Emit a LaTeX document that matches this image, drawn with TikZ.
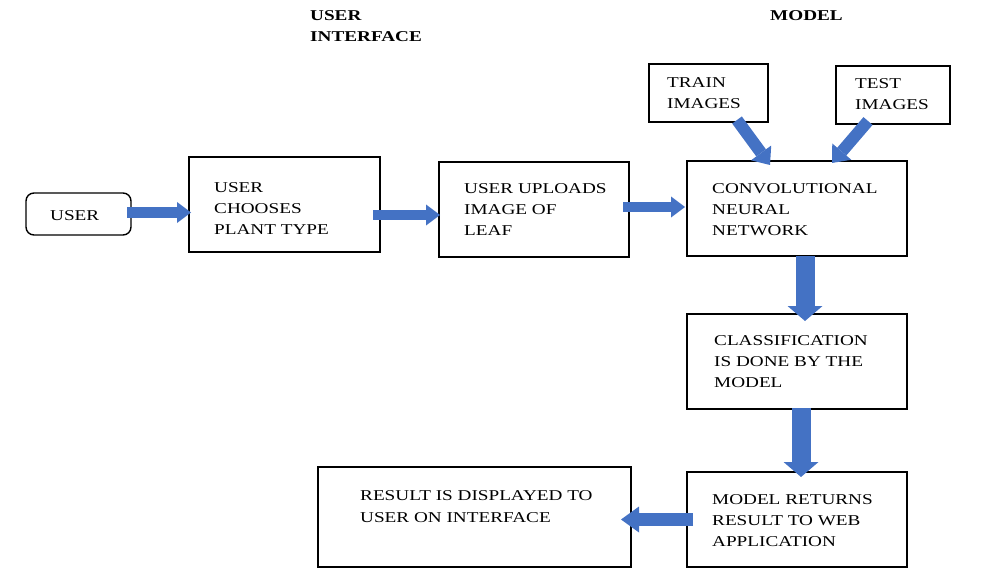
\documentclass[tikz,border=0pt]{standalone}
\usepackage{fontspec}
\setmainfont{Liberation Serif}[FakeStretch=1.28]
\usetikzlibrary{arrows.meta}
\definecolor{ablue}{RGB}{68,114,196}
\begin{document}
\begin{tikzpicture}[x=1pt,y=-1pt,
  box/.style={draw, line width=1.4pt, inner sep=0pt, outer sep=0pt, anchor=north west},
  txt/.style={anchor=north west, inner sep=0pt, align=left, font=\fontsize{15}{21}\selectfont},
  ttl/.style={anchor=north west, inner sep=0pt, align=left, font=\fontsize{15}{21}\selectfont\bfseries},
  blk/.style={draw=ablue, line cap=butt, line join=miter},
  harrow/.style={blk, line width=10.5pt, -{Triangle[width=21pt,length=14pt,line width=0pt]}},
  bigharrow/.style={blk, line width=13pt, -{Triangle[width=26pt,length=18pt,line width=0pt]}},
  varrow/.style={blk, line width=19pt, -{Triangle[width=35pt,length=15pt,line width=0pt]}},
  darrow/.style={blk, line width=12pt, -{Triangle[width=25pt,length=15pt,line width=0pt]}}
]
\useasboundingbox (0,0) rectangle (982,588);

% titles
\node[ttl] (t1) at (310,10) {USER\\INTERFACE};
\node[ttl] (t2) at (770,10) {MODEL};

% boxes
\node[box, rounded corners=8pt, minimum width=105pt, minimum height=42pt] (user) at (26,193) {};
\node[box, minimum width=191pt, minimum height=95pt] (choose) at (189,157) {};
\node[box, minimum width=190pt, minimum height=95pt] (upload) at (439,162) {};
\node[box, minimum width=220pt, minimum height=95pt] (cnn) at (687,161) {};
\node[box, minimum width=119pt, minimum height=58pt] (train) at (649,64) {};
\node[box, minimum width=114pt, minimum height=58pt] (test) at (836,66) {};
\node[box, minimum width=220pt, minimum height=95pt] (class) at (687,314) {};
\node[box, minimum width=220pt, minimum height=95pt] (return) at (687,472) {};
\node[box, minimum width=313pt, minimum height=100pt] (display) at (318,467) {};

% texts
\node[txt] (userT) at (50,210) {USER};
\node[txt] (chooseT) at (214,182) {USER\\CHOOSES\\PLANT TYPE};
\node[txt] (uploadT) at (464,183) {USER UPLOADS\\IMAGE OF\\LEAF};
\node[txt] (cnnT) at (712,183) {CONVOLUTIONAL\\NEURAL\\NETWORK};
\node[txt] (trainT) at (667,77) {TRAIN\\IMAGES};
\node[txt] (testT) at (855,78) {TEST\\IMAGES};
\node[txt] (classT) at (714,335) {CLASSIFICATION\\IS DONE BY THE\\MODEL};
\node[txt] (returnT) at (712,494) {MODEL RETURNS\\RESULT TO WEB\\APPLICATION};
\node[txt, font=\fontsize{15}{22}\selectfont] (displayT) at (360,490) {RESULT IS DISPLAYED TO\\USER ON INTERFACE};

% arrows
\draw[harrow] ([xshift=-4pt,yshift=1.5pt]user.east) -- ([xshift=2pt,yshift=-8pt]choose.west);
\draw[harrow] ([xshift=-7pt,yshift=-10.5pt]choose.east) -- ([xshift=1pt,yshift=-5.5pt]upload.west);
\draw[harrow] ([xshift=-6pt,yshift=2.5pt]upload.east) -- ([xshift=-2pt,yshift=1.5pt]cnn.west);
\draw[darrow] ([xshift=28.5pt,yshift=2pt]train.south) -- ([xshift=-27pt,yshift=-4pt]cnn.north);
\draw[darrow] ([xshift=-25pt,yshift=3pt]test.south) -- ([xshift=35pt,yshift=-2pt]cnn.north);
\draw[varrow] ([xshift=8pt]cnn.south) -- ([xshift=8pt,yshift=-7pt]class.north);
\draw[varrow] ([xshift=4pt,yshift=1pt]class.south) -- ([xshift=4pt,yshift=-5pt]return.north);
\draw[bigharrow] ([xshift=6pt]return.west) -- ([xshift=-10pt,yshift=-2.5pt]display.east);
\end{tikzpicture}
\end{document}
